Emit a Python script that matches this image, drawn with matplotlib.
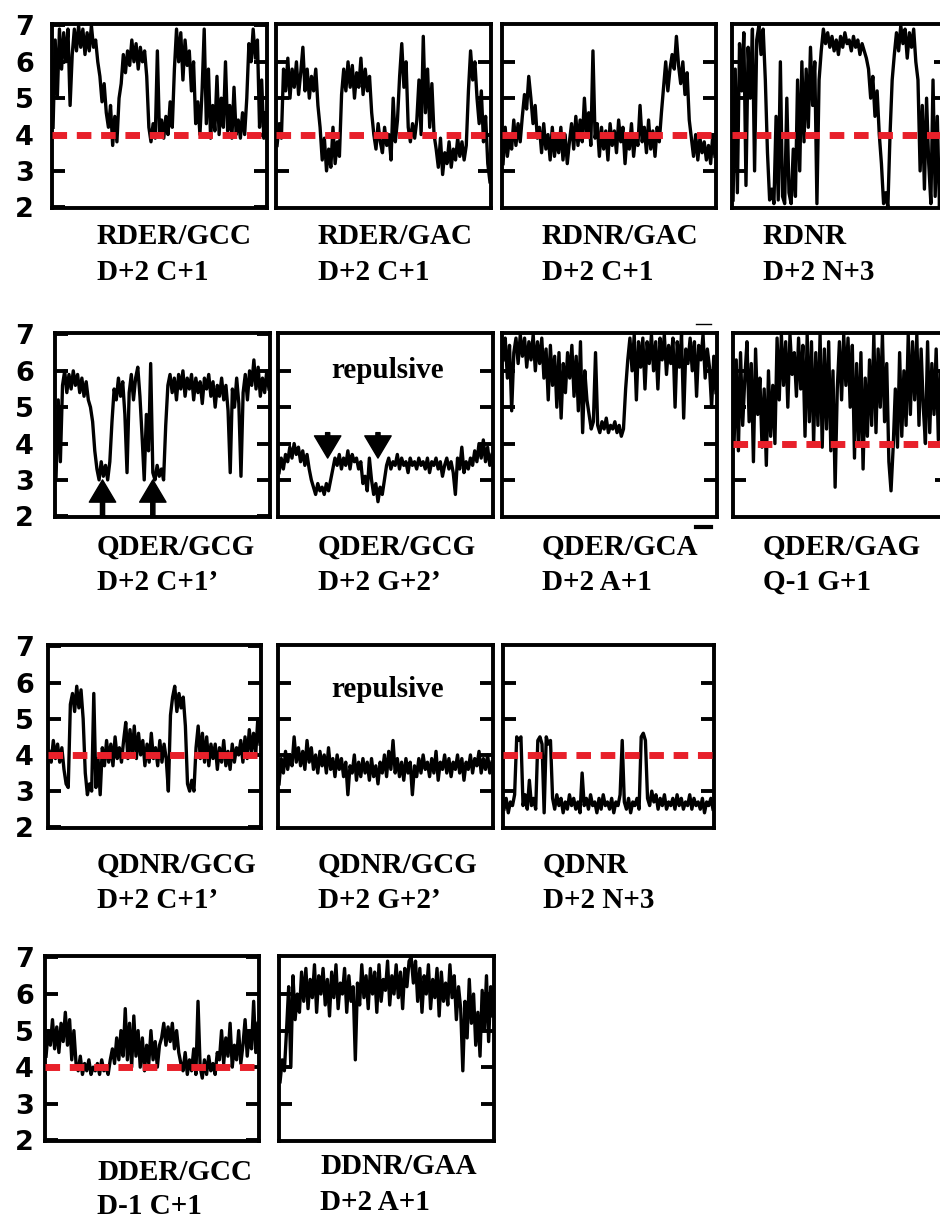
import matplotlib
matplotlib.use("Agg")
import matplotlib.pyplot as plt
from matplotlib.lines import Line2D

# distance traces, one list per panel
rder_gcc = [4.2, 6.6, 5.0, 6.9, 5.8, 6.8, 6.0, 6.9, 4.8, 6.2,
            6.9, 6.3, 7.0, 6.4, 6.9, 6.2, 6.8, 6.3, 7.0, 6.4, 6.6, 6.0,
            5.6, 4.9, 5.4, 4.6, 4.2, 4.8, 3.7, 4.5, 3.8, 5.0,
            5.4, 6.2, 5.7, 6.3, 5.9, 6.6, 6.0, 6.5, 5.8, 6.4, 6.0, 6.3, 5.6,
            4.2, 3.8, 4.3, 3.9, 6.3, 4.0, 4.4, 3.9, 4.5, 4.0, 4.9, 4.2,
            5.8, 6.9, 6.0, 6.8, 5.5, 6.6, 5.9, 6.3, 5.2, 6.0,
            4.3, 4.9, 4.0, 5.2, 6.9, 4.3, 5.8, 3.9,
            4.8, 4.1, 5.6, 4.0, 5.0, 4.2, 6.0, 4.1, 4.8, 3.9, 5.3, 4.0,
            4.4, 3.9, 4.6, 4.0, 5.0, 6.5, 6.0, 6.9, 6.1, 6.6,
            4.2, 5.5, 3.9, 4.6]
rder_gac = [3.7, 4.3, 3.9, 5.8,
            5.2, 6.1, 5.0, 5.8, 5.3, 6.0, 5.1, 5.7, 6.4, 5.2, 5.8, 5.0, 5.6, 5.2, 5.8, 4.8,
            4.2, 3.3, 3.9, 3.0, 3.6, 3.1, 4.2, 3.2, 3.8, 3.4,
            5.1, 5.8, 5.2, 6.0, 5.3, 5.9, 5.0, 5.7, 5.3, 6.1, 5.1, 5.8, 5.2, 5.6, 4.6,
            4.0, 3.6, 4.3, 3.8, 3.5, 4.2, 3.7, 4.0, 3.3, 5.0, 3.8, 4.4,
            5.6, 6.5, 5.3, 6.0, 4.2, 3.8, 4.3, 3.9,
            4.4, 5.5, 4.0, 6.7, 4.6, 5.8, 4.2, 5.4, 4.0,
            3.6, 3.1, 3.9, 2.9, 3.5, 3.2, 3.8, 3.1, 3.6, 3.3, 3.9,
            3.4, 3.8, 3.3, 3.7, 5.2, 6.3, 5.5, 6.0, 5.0,
            4.3, 5.2, 3.8, 4.5, 3.2, 2.7]
rdnr_gac = [3.2, 4.2, 3.4, 3.9, 3.6, 4.4, 3.7, 4.3, 3.8,
            4.5, 5.1, 4.7, 5.6, 5.0, 4.3, 4.8, 3.9,
            4.2, 3.5, 4.3, 3.6, 4.0, 3.3, 4.2, 3.4, 3.9,
            3.5, 4.2, 3.3, 4.0, 3.2, 3.8, 4.3, 3.6, 4.5, 3.7, 4.4,
            3.8, 5.0, 4.0, 4.6, 3.7, 6.3,
            3.9, 4.3, 3.4, 4.2, 3.6, 4.1, 3.3, 4.3, 3.7,
            4.1, 3.5, 4.4, 3.8, 4.2, 3.2, 4.0, 3.6, 4.3, 3.4,
            4.0, 3.7, 4.8, 3.8, 4.2, 3.5, 4.4, 3.6, 4.1, 3.4, 4.2,
            3.8, 4.6, 5.3, 6.0, 5.2, 5.8, 6.2, 5.8, 6.7, 5.9,
            5.4, 6.0, 5.1, 5.7, 4.4, 3.9,
            3.4, 4.0, 3.3, 3.9, 3.5, 3.8, 3.3, 3.7, 3.2, 4.0, 3.4]
rdnr = [2.2, 5.8, 2.4, 6.5, 5.2, 6.8, 2.6, 6.4, 5.0, 6.9, 3.0, 6.6,
        7.0, 6.2, 6.9, 5.5, 3.5, 2.2,
        2.5, 2.1, 4.5, 2.2, 6.0, 2.3, 2.1, 5.0, 2.4, 2.1, 3.6,
        2.3, 5.5, 3.0, 6.0, 3.8,
        5.8, 4.2, 6.4, 4.8, 6.0, 2.1, 5.5, 6.3,
        6.9, 6.5, 6.8, 6.4, 6.7, 6.3, 6.6, 6.2, 6.7, 6.4, 6.8, 6.5, 6.6, 6.3,
        6.7, 6.4, 6.6, 6.2, 6.5, 6.3, 6.1,
        5.8, 5.0, 5.6, 4.5, 5.2, 4.0, 3.2, 2.1, 2.4, 2.0, 4.0, 5.5, 6.2,
        6.8, 6.3, 7.0, 6.5, 6.9, 6.1, 6.8, 6.4, 6.9, 6.0, 5.5,
        3.0, 4.8, 2.5, 5.0, 3.2, 2.1, 5.5, 2.3, 4.5, 2.0, 3.8, 2.5, 4.2]

qder_gcg_c = [3.1, 5.2, 3.5,
              5.6, 6.0, 5.4, 5.9, 5.5, 6.0, 5.6, 5.9, 5.4, 5.8, 5.3, 5.7, 5.2,
              5.0, 4.6, 3.8, 3.3, 3.0, 3.5, 3.1, 3.4, 3.0, 3.5,
              4.6, 5.5, 5.2, 5.8, 5.3, 5.7, 4.8, 3.2,
              5.4, 5.9, 5.2, 5.8, 6.1, 5.3, 4.2, 3.0, 4.8, 3.8, 6.2,
              3.2, 3.0, 3.4, 3.1, 3.3, 3.0, 4.5, 5.6,
              5.9, 5.4, 5.8, 5.2, 5.9, 5.5, 6.0, 5.3, 5.8, 5.5, 5.9, 5.2, 5.8, 5.4,
              5.7, 5.1, 5.8, 5.5, 5.9, 5.3, 5.7, 5.0, 5.6, 5.3, 5.8, 5.2, 5.6, 4.9,
              3.2, 5.5, 5.0, 5.8, 5.1, 3.1,
              5.4, 5.9, 5.2, 6.0, 5.6, 6.3, 5.5, 6.1, 5.3, 5.8, 5.4, 6.0, 5.5]
qder_gcg_g = [3.2, 3.6, 3.3, 3.7,
              3.5, 3.9, 3.6, 4.0, 3.7, 3.9, 3.5, 3.8, 3.4, 3.7, 3.3,
              3.0, 2.8, 2.6, 2.9, 2.7, 2.8, 2.6, 2.9, 2.7, 3.0, 3.3, 3.6,
              3.4, 3.7, 3.3, 3.6, 3.4, 3.8, 3.3, 3.7, 3.5, 3.6, 3.3, 3.5,
              2.9, 3.1, 2.7, 3.6, 3.0, 2.6, 2.9, 2.4, 2.8, 2.6, 3.0,
              3.4, 3.6, 3.3, 3.5, 3.4, 3.7, 3.3, 3.6, 3.4, 3.5, 3.2, 3.6, 3.4, 3.5,
              3.3, 3.6, 3.4, 3.5, 3.3, 3.6, 3.2, 3.5, 3.4, 3.6, 3.3, 3.5, 3.1, 3.4,
              3.6, 3.3, 3.5, 3.2, 2.6, 3.6,
              3.3, 3.9, 3.2, 3.5, 3.3, 3.6,
              3.4, 3.8, 3.5, 4.0, 3.6, 4.1, 3.5, 3.9, 3.4, 3.7]
qder_gca = [6.3, 6.9, 5.8, 6.7, 4.9,
            6.5, 6.9, 6.2, 7.0, 6.4, 6.9, 6.1, 6.8, 6.3, 7.0, 6.0, 6.8, 6.2, 6.9, 5.8, 6.6,
            5.2, 6.7, 5.6, 6.4, 5.0, 6.5, 4.7, 6.2, 5.4, 6.5, 5.8,
            6.7, 5.3, 6.4, 4.9, 6.8, 4.3, 6.0, 5.2, 4.8, 4.4, 4.6, 6.5,
            4.5, 4.3, 4.6, 4.4, 4.7, 4.3, 4.5, 4.4, 4.6, 4.3, 4.5, 4.2, 4.4,
            5.5, 6.3, 6.9, 6.0, 7.0, 5.2, 6.8, 6.1, 6.9, 5.5,
            6.8, 6.2, 7.0, 6.0, 6.8, 5.5, 6.9, 6.3, 7.0, 5.9, 6.7, 6.2, 6.9, 5.0,
            6.8, 6.1, 7.0, 4.7, 6.6, 6.2, 6.9, 6.0, 6.8, 5.3, 6.7, 6.3, 7.0, 5.8,
            6.6, 6.1, 5.0, 6.4, 5.4]
qder_gag = [4.0, 6.3, 3.8, 6.5, 4.5, 5.8, 6.8, 4.6, 6.2, 3.5, 6.6, 4.8,
            5.8, 3.9, 5.5, 3.4, 6.0, 4.2, 5.6, 4.0,
            6.9, 5.2, 7.0, 5.6, 6.8, 5.0, 7.0, 5.9, 6.5, 5.3, 6.9, 5.5, 6.7,
            4.2, 7.0, 4.6, 6.8, 4.0, 6.5, 4.5, 7.0,
            3.9, 6.6, 4.4, 6.8, 3.8, 6.0, 2.8, 5.5,
            6.8, 5.2, 7.0, 5.6, 6.9, 5.0, 6.7,
            3.6, 6.2, 4.0, 6.5, 3.3, 5.8, 4.2, 6.3,
            4.5, 7.0, 4.3, 6.6, 5.0, 7.0, 4.6, 6.2, 3.5, 2.7, 3.9,
            5.5, 3.9, 6.5, 4.2, 6.0, 4.5,
            7.0, 4.8, 6.8, 5.2, 7.0, 4.5, 6.6, 5.0,
            4.0, 6.8, 4.3, 6.2, 4.8, 6.6, 4.1, 6.0, 4.5, 6.5, 4.2]

qdnr_gcg_c = [4.1, 3.8, 4.4, 3.9, 4.3, 3.8, 4.2, 3.6, 3.2, 3.1,
              5.4, 5.7, 5.2, 5.9, 5.3, 5.8, 5.0, 3.5, 2.9, 3.2, 3.0, 5.7,
              3.1, 3.9, 2.9,
              4.2, 3.7, 4.4, 3.8, 4.3, 3.7, 4.5, 3.9, 4.2, 3.8, 4.4,
              4.9, 3.9, 4.7, 4.0, 4.8, 3.9, 4.6, 4.0,
              4.4, 3.7, 4.3, 3.8, 4.6, 3.9, 4.2, 3.7, 4.4, 3.8, 4.3, 3.9, 3.0,
              5.1, 5.6, 5.9, 5.2, 5.7, 5.3, 5.6, 4.8, 3.2, 3.0, 3.3, 3.0,
              4.2, 4.8, 3.9, 4.6, 3.8, 4.5, 3.7, 4.3,
              3.9, 4.3, 3.6, 4.2, 3.8, 4.4, 3.7, 4.1, 3.6, 4.3, 3.8, 4.2,
              4.0, 4.4, 3.8, 4.5, 3.9, 4.7, 4.1, 4.6, 4.0, 5.0, 4.3]
qdnr_gcg_g = [3.2, 3.9, 3.5, 4.1, 3.6, 4.0, 3.7, 4.5, 3.8, 4.2,
              3.7, 4.1, 3.6, 4.4, 3.8, 4.2, 3.6, 4.0, 3.5, 4.1,
              3.7, 4.0, 3.5, 4.2, 3.6, 3.9, 3.4, 4.0, 3.6, 3.9,
              3.4, 3.8, 2.9, 3.7, 3.5, 4.0, 3.3, 3.8, 3.4, 3.9,
              3.5, 3.8, 3.3, 3.9, 3.4, 3.7, 3.2, 3.8, 3.5, 4.0,
              3.4, 4.1, 3.6, 4.4, 3.5, 3.9, 3.4, 3.8, 3.3, 3.9,
              3.5, 3.8, 2.9, 3.7, 3.4, 3.9, 3.5, 4.0, 3.6, 3.8,
              3.4, 3.9, 3.5, 4.1, 3.3, 3.8, 3.6, 4.0, 3.5, 3.9,
              3.4, 3.8, 3.6, 4.0, 3.5, 3.9, 3.3, 3.8, 3.6, 4.0,
              3.5, 3.9, 3.7, 4.1, 3.5, 3.9, 3.6, 4.0, 3.5, 3.8]
qdnr = [2.5, 2.8, 2.4, 2.7, 2.6, 2.9, 4.5, 4.4, 4.5,
        2.6, 2.9, 2.5, 3.3, 2.6, 2.8, 2.5, 4.4, 4.5, 4.3, 2.4, 4.5, 4.3, 4.4,
        2.8, 2.5, 2.9, 2.6, 2.8, 2.4, 2.7, 2.5, 2.9, 2.6, 2.8, 2.5, 2.7, 2.4,
        3.5, 2.6, 2.8, 2.5, 2.9, 2.6, 2.7, 2.4, 2.8, 2.5, 2.9, 2.6, 2.7, 2.5,
        2.8, 2.4, 2.7, 2.6, 2.9, 4.4,
        2.7, 2.5, 2.8, 2.4, 2.7, 2.6, 2.8, 2.5, 4.5, 4.6, 4.4,
        2.8, 2.6, 3.0, 2.7, 2.9, 2.5, 2.8, 2.6, 2.9, 2.5, 2.7, 2.6, 2.8, 2.5,
        2.9, 2.6, 2.8, 2.5, 2.7, 2.6, 2.9, 2.5, 2.8, 2.6, 2.7, 2.5, 2.8, 2.4,
        2.7, 2.6, 2.8, 2.5]

dder_gcc = [4.3, 5.0, 4.6, 5.3, 4.5, 5.1, 4.4, 5.2, 4.7, 5.5, 4.6, 5.3, 4.2, 5.0,
            4.1, 3.9, 4.3, 3.8, 4.1, 3.9, 4.2, 3.8, 4.0, 3.9, 4.1, 3.8, 4.2, 3.9,
            4.0, 3.8, 4.2,
            4.5, 4.1, 4.8, 4.2, 5.0, 4.3, 5.6,
            4.2, 5.2, 4.0, 5.4, 4.3, 5.0, 4.0, 4.8, 3.9, 4.6, 4.1, 5.0, 4.2, 4.7,
            4.0, 4.6,
            4.8, 5.2, 4.6, 5.1, 4.7, 5.2, 4.5, 5.0, 4.4,
            4.1, 3.9, 4.4, 3.8, 4.2, 3.9, 4.5, 3.8, 5.8, 4.0,
            3.7, 4.2, 3.8, 4.3, 3.9, 4.1, 3.8, 4.4,
            4.2, 5.0, 4.1, 4.8, 4.3, 5.2, 4.0, 4.6, 4.2, 5.0, 4.1,
            4.6, 5.3, 4.3, 5.0, 4.5, 5.8, 4.4, 5.2]
ddnr_gaa = [3.6, 4.2, 3.9, 5.0, 6.2, 4.0, 6.5, 5.3,
            6.0, 5.5, 6.6, 5.8, 6.7, 5.6, 6.4, 5.9, 6.8, 5.5, 6.5, 6.0, 6.7, 5.7,
            6.4, 5.4, 6.6, 5.9, 6.8, 5.6, 6.3, 6.0, 6.7, 5.5, 6.5, 5.8, 6.2, 4.2,
            6.3, 5.7, 6.8, 5.9, 6.5, 5.6, 6.7, 6.0, 6.6, 5.5, 6.8, 5.8, 6.4, 6.1,
            6.9, 5.7, 6.5, 6.0, 6.8, 5.9, 6.6, 5.6, 6.7, 6.2, 6.9, 7.0, 6.3, 6.9,
            5.8, 6.7, 5.5, 6.5, 6.0, 6.8, 5.6, 6.4, 5.9, 6.7, 5.4, 6.6, 5.8, 6.3,
            5.7, 6.8, 5.9, 6.5, 5.3, 6.2, 5.6, 3.9,
            5.8, 4.8, 6.4, 5.2, 6.0, 4.6, 5.5, 4.3, 6.1, 5.0, 6.5, 4.7, 6.2, 5.4]

traces = [rder_gcc, rder_gac, rdnr_gac, rdnr,
          qder_gcg_c, qder_gcg_g, qder_gca, qder_gag,
          qdnr_gcg_c, qdnr_gcg_g, qdnr,
          dder_gcc, ddnr_gaa]
names = ["RDER/GCC", "RDER/GAC", "RDNR/GAC", "RDNR",
         "QDER/GCG", "QDER/GCG", "QDER/GCA", "QDER/GAG",
         "QDNR/GCG", "QDNR/GCG", "QDNR",
         "DDER/GCC", "DDNR/GAA"]
contacts = ["D+2 C+1", "D+2 C+1", "D+2 C+1", "D+2 N+3",
            "D+2 C+1\u2019", "D+2 G+2\u2019", "D+2 A+1", "Q-1 G+1",
            "D+2 C+1\u2019", "D+2 G+2\u2019", "D+2 N+3",
            "D-1 C+1", "D+2 A+1"]
threshold = 4.0
show_threshold = [True, True, True, True,
                  False, False, False, True,
                  True, False, True,
                  True, False]
y_labels = [2, 3, 4, 5, 6, 7]

# panel frames in pixels: left, top, right, bottom ; label x, label y
boxes = [(52, 24, 267, 208), (276, 24, 491, 208), (502, 24, 716, 208), (732, 24, 947, 208),
         (55, 333, 270, 517), (278, 333, 493, 517), (502, 333, 717, 517), (733, 333, 948, 517),
         (48, 645, 261, 828), (278, 645, 493, 828), (503, 645, 714, 828),
         (45, 956, 259, 1141), (279, 956, 494, 1141)]
label_pos = [(97, 237), (318, 237), (542, 237), (763, 237),
             (97, 547), (318, 547), (542, 547), (763, 547),
             (97, 865), (318, 865), (543, 865),
             (97, 1172), (320, 1167)]
row_first = [0, 4, 8, 11]

W, H = 940, 1220
serif = "Liberation Serif"
red = "#e8202a"

fig = plt.figure(figsize=(9.4, 12.2), dpi=100)
axes = []
for i, (l, t, r, b) in enumerate(boxes):
    ax = fig.add_axes([l / W, 1 - b / H, (r - l) / W, (b - t) / H])
    y = traces[i]
    ax.plot(range(len(y)), y, color="black", lw=2.4, zorder=2)
    if show_threshold[i]:
        ax.axhline(threshold, color=red, lw=5, dashes=(2.1, 1.4), zorder=3)
    ax.set_xlim(-0.5, len(y) - 0.5)
    ax.set_ylim(1.98, 7.04)
    ax.set_xticks([])
    for s in ax.spines.values():
        s.set_linewidth(2.8)
    if i in row_first:
        ax.set_yticks(y_labels)
        ax.set_yticklabels([str(v) for v in y_labels], fontsize=19.5,
                           fontweight="bold", family="DejaVu Sans")
        pad = (l - 34) * 0.72
    else:
        ax.set_yticks([3, 4, 5, 6])
        ax.set_yticklabels([])
        pad = 4
    ax.tick_params(axis="y", direction="in", length=9.5, width=2.8,
                   left=True, right=True, pad=pad)
    lx, ly = label_pos[i]
    fig.text(lx / W, 1 - ly / H, names[i], fontsize=21, fontweight="bold",
             family=serif, ha="left", va="center")
    fig.text(lx / W, 1 - (ly + 35) / H, contacts[i], fontsize=21,
             fontweight="bold", family=serif, ha="left", va="center")
    axes.append(ax)

# arrows marking the dips
arrow_style = dict(facecolor="black", edgecolor="black", width=3,
                   headwidth=19, headlength=16, shrink=0)
for xa in [21.6, 45.0]:
    axes[4].annotate("", xy=(xa, 3.0), xytext=(xa, 1.98), arrowprops=arrow_style)
for xa in [22.6, 46.0]:
    axes[5].annotate("", xy=(xa, 3.6), xytext=(xa, 4.3), arrowprops=arrow_style)

axes[5].text(50.5, 6.02, "repulsive", fontsize=21, fontweight="bold",
             family=serif, ha="center", va="center")
axes[9].text(50.5, 5.8, "repulsive", fontsize=21, fontweight="bold",
             family=serif, ha="center", va="center")

# stray marks next to the QDER/GCA panel
axes[6].add_line(Line2D([0.9, 0.97], [1.05, 1.05], transform=axes[6].transAxes,
                        color="black", lw=1, clip_on=False))
axes[6].add_line(Line2D([0.9, 0.97], [-0.055, -0.055], transform=axes[6].transAxes,
                        color="black", lw=3, clip_on=False))

fig.savefig("out.png", dpi=100)
